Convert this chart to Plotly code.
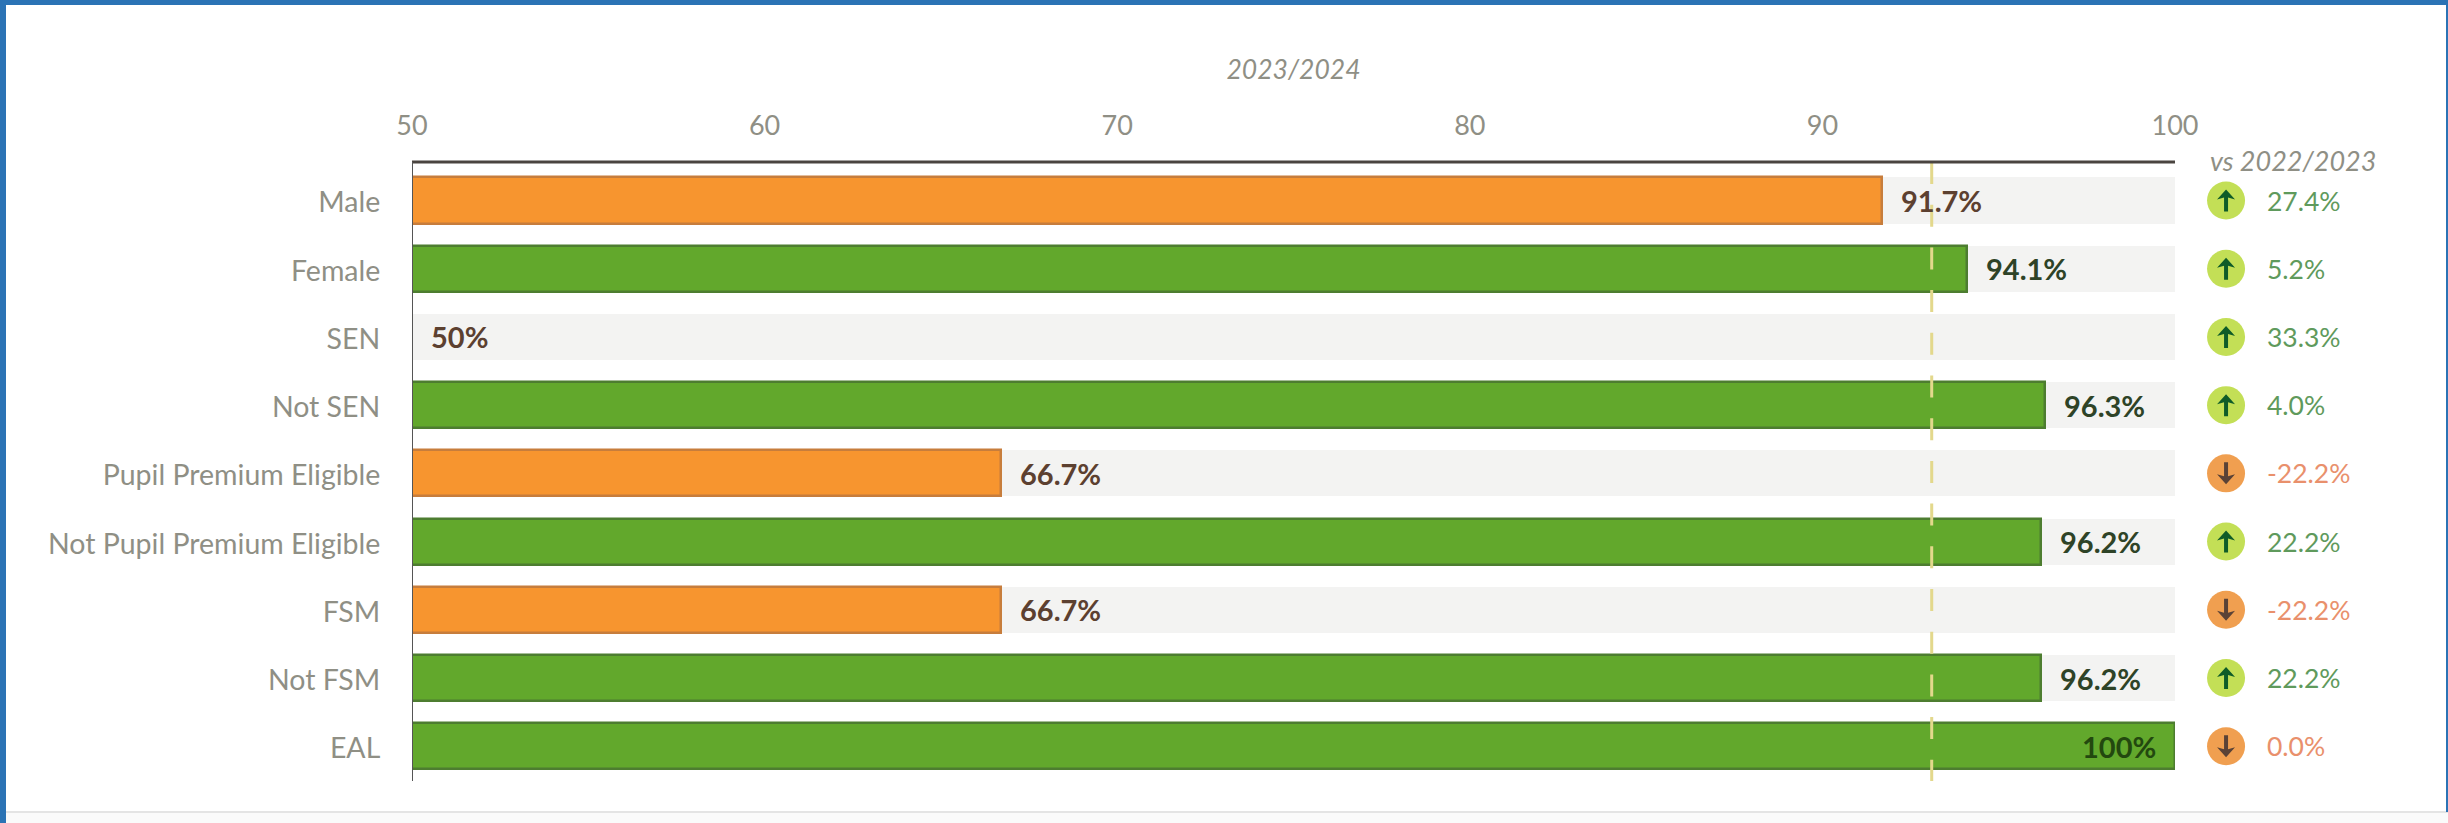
import plotly.graph_objects as go

categories = ["Male", "Female", "SEN", "Not SEN", "Pupil Premium Eligible",
              "Not Pupil Premium Eligible", "FSM", "Not FSM", "EAL"]
values = [91.7, 94.1, 50, 96.3, 66.7, 96.2, 66.7, 96.2, 100]
value_labels = ["91.7%", "94.1%", "50%", "96.3%", "66.7%", "96.2%", "66.7%", "96.2%", "100%"]
trend = [27.4, 5.2, 33.3, 4.0, -22.2, 22.2, -22.2, 22.2, 0.0]
trend_labels = ["27.4%", "5.2%", "33.3%", "4.0%", "-22.2%", "22.2%", "-22.2%", "22.2%", "0.0%"]
benchmark = 93.1
x_ticks = [50, 60, 70, 80, 90, 100]

W, H = 2448, 823
L, R, T, B = 412, 2175, 162, 781
FONT = "Lato, sans-serif"
GREY = "#8f8f85"
ORANGE, ORANGE_EDGE = "#f7952f", "#c77d3c"
GREEN, GREEN_EDGE = "#62a82c", "#4d7d30"
UP_BG, UP_FG = "#c3df56", "#0f5c28"
DOWN_BG, DOWN_FG = "#f09f50", "#5a4236"
UP_TXT, DOWN_TXT = "#5f9a5c", "#e9906c"

px = lambda x: (x - L) / (W - L)      # pixel -> paper, horizontally
py = lambda y: (B - y) / (B - T)      # pixel -> paper, vertically

up = [t > 0 for t in trend]
ICON_X, TEXT_X, HEAD_X = 0.187, 0.343, 0.122
fig = go.Figure()

fig.add_bar(y=categories, x=[100] * len(categories), orientation="h", width=0.675,
            marker=dict(color="#f3f3f2", line_width=0), hoverinfo="skip", xaxis="x", yaxis="y")
fig.add_bar(y=categories, x=values, orientation="h", width=0.675,
            marker=dict(color=[GREEN if v >= benchmark else ORANGE for v in values],
                        line=dict(color=[GREEN_EDGE if v >= benchmark else ORANGE_EDGE for v in values], width=2.5)),
            xaxis="x", yaxis="y")

# right-hand trend column on its own axis
fig.add_scatter(y=categories, x=[ICON_X] * len(categories), mode="markers", xaxis="x2", yaxis="y",
                marker=dict(size=38, color=[UP_BG if u else DOWN_BG for u in up], line_width=0),
                hoverinfo="skip")

ann = []
for c, v, lab in zip(categories, values, value_labels):
    inside = v >= 100
    colour = "#23480f" if inside else ("#2e4327" if v >= benchmark else "#5c4030")
    ann.append(dict(x=v, y=c, xref="x", yref="y", text=f"<b>{lab}</b>", showarrow=False,
                    xanchor="right" if inside else "left", xshift=-17 if inside else 17,
                    font=dict(family=FONT, size=29, color=colour)))
for c, u, lab in zip(categories, up, trend_labels):
    ann.append(dict(x=TEXT_X, y=c, xref="x2", yref="y", text=lab, showarrow=False, xanchor="left",
                    xshift=-4, font=dict(family=FONT, size=26.5, color=UP_TXT if u else DOWN_TXT)))
ann.append(dict(x=HEAD_X, y=py(160), xref="x2", yref="paper", text="<i>vs 2022/2023</i>", showarrow=False,
                xanchor="left", yanchor="middle", font=dict(family=FONT, size=27, color=GREY)))

UP_PATH = "M0,11 L9,1 L2,3 L2,-11 L-2,-11 L-2,3 L-9,1 Z"
DOWN_PATH = "M0,-11 L9,-1 L2,-3 L2,11 L-2,11 L-2,-3 L-9,-1 Z"
arrows = [dict(type="path", xref="x2", yref="y", xsizemode="pixel", ysizemode="pixel",
               xanchor=ICON_X, yanchor=i, path=UP_PATH if u else DOWN_PATH,
               fillcolor=UP_FG if u else DOWN_FG, line_width=0, layer="above")
          for i, u in enumerate(up)]

shapes = arrows + [
    dict(type="line", xref="x", yref="paper", x0=benchmark, x1=benchmark, y0=1, y1=0,
         line=dict(color="#e3d88c", width=3, dash="22px,20.7px"), layer="above"),
    dict(type="line", xref="x", yref="paper", x0=50, x1=100, y0=1, y1=1,
         line=dict(color="#4a4440", width=3), layer="above"),
    dict(type="line", xref="x", yref="paper", x0=50, x1=50, y0=1, y1=0,
         line=dict(color="#555555", width=2), layer="above"),
    # page furniture
    dict(type="rect", xref="paper", yref="paper", x0=px(0), x1=1, y0=py(H), y1=py(812),
         fillcolor="#fafafa", line_width=0, layer="below"),
    dict(type="line", xref="paper", yref="paper", x0=px(0), x1=1, y0=py(812), y1=py(812),
         line=dict(color="#e4e4e4", width=2), layer="below"),
    dict(type="rect", xref="paper", yref="paper", x0=px(0), x1=1, y0=py(5), y1=py(0),
         fillcolor="#2b73b5", line_width=0, layer="above"),
    dict(type="rect", xref="paper", yref="paper", x0=px(0), x1=px(6), y0=py(H), y1=py(0),
         fillcolor="#2b73b5", line_width=0, layer="above"),
    dict(type="rect", xref="paper", yref="paper", x0=px(2446), x1=1, y0=py(812), y1=py(0),
         fillcolor="#2b73b5", line_width=0, layer="above"),
]

split = (R - L) / (W - L)
fig.update_layout(
    width=W, height=H, autosize=False, showlegend=False, barmode="overlay", bargap=0,
    paper_bgcolor="white", plot_bgcolor="rgba(0,0,0,0)",
    margin=dict(l=L, r=0, t=T, b=H - B, pad=0, autoexpand=False),
    font=dict(family=FONT, color=GREY),
    xaxis=dict(domain=[0, split], range=[50, 100], side="top", tickvals=x_ticks, showgrid=False,
               zeroline=False, showline=False, ticks="outside", ticklen=15, tickcolor="rgba(0,0,0,0)",
               tickfont=dict(family=FONT, size=27, color=GREY),
               title=dict(text="<i>2023/2024</i>", font=dict(family=FONT, size=26.5, color=GREY), standoff=20)),
    xaxis2=dict(domain=[split, 1], range=[0, 1], visible=False, anchor="y", fixedrange=True),
    yaxis=dict(type="category", categoryorder="array", categoryarray=categories,
               range=[8.51, -0.5645], showgrid=False, zeroline=False, showline=False,
               ticks="outside", ticklen=25, tickcolor="rgba(0,0,0,0)", ticklabelshift=-2,
               tickfont=dict(family=FONT, size=28.5, color=GREY)),
    annotations=ann, shapes=shapes,
)

fig.write_html("out.html", config={"displayModeBar": False},
               post_script="document.body.style.margin='0';document.body.style.overflow='hidden';")
